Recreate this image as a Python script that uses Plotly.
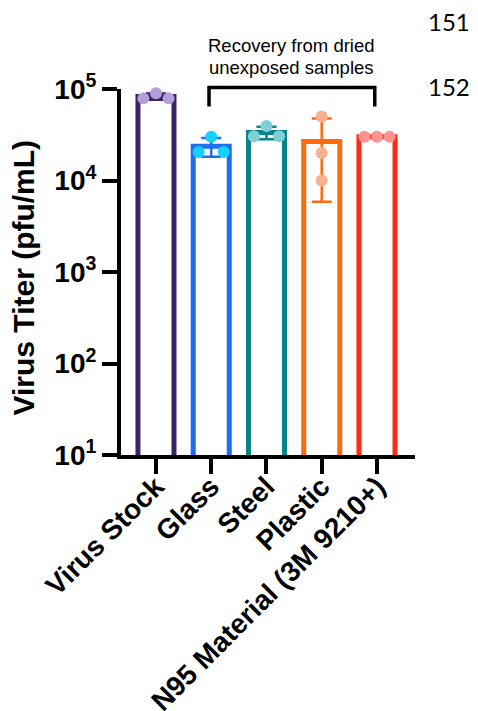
import numpy as np
import plotly.graph_objects as go

# ---- data ----
categories = ["Virus Stock", "Glass", "Steel", "Plastic", "N95 Material (3M 9210+)"]
replicates = [
    [7.9e4, 9.0e4, 7.9e4],
    [2.05e4, 3.0e4, 2.05e4],
    [3.05e4, 3.95e4, 3.05e4],
    [5.0e4, 2.0e4, 1.0e4],
    [3.0e4, 3.0e4, 3.0e4],
]
y_tickvals = [1e1, 1e2, 1e3, 1e4, 1e5]
y_ticktext = ["10<sup>1</sup>", "10<sup>2</sup>", "10<sup>3</sup>", "10<sup>4</sup>", "10<sup>5</sup>"]
bracket_lines = ["Recovery from dried", "unexposed samples"]
page_numbers = ["151", "152"]

# ---- style ----
bar_colors = ["#3B2466", "#1E6EF0", "#07838A", "#FF6A0D", "#FF2A12"]
point_colors = ["#B39DDB", "#17D0FF", "#7FCFD6", "#F9B08F", "#FF9191"]
# horizontal swarm slots for each replicate (display layout)
swarm_slots = [[-1, 0, 1], [-1, 0, 1], [-1, 0, 1], [0, 0, 0], [-1, 0, 1]]
slot_step = 0.228
FONT = "Liberation Sans, Arial, sans-serif"

means = [float(np.mean(r)) for r in replicates]
sds = [float(np.std(r, ddof=1)) for r in replicates]

fig = go.Figure()
for i, cat in enumerate(categories):
    fig.add_trace(go.Bar(
        x=[i], y=[means[i]], width=0.652,
        marker=dict(color="white", line=dict(color=bar_colors[i], width=5)),
        error_y=dict(type="data", array=[sds[i]], visible=True,
                     color=bar_colors[i], thickness=2.5, width=10),
        showlegend=False, hoverinfo="skip",
    ))
for i, cat in enumerate(categories):
    xs = [i + s * slot_step for s in swarm_slots[i]]
    fig.add_trace(go.Scatter(
        x=xs, y=replicates[i], mode="markers",
        marker=dict(color=point_colors[i], size=12, line=dict(width=0)),
        cliponaxis=False, showlegend=False, hoverinfo="skip",
    ))

# bracket over surfaces
fig.add_shape(type="path", xref="x", yref="paper",
              path="M 0.96,0.952 L 0.96,1.004 L 3.96,1.004 L 3.96,0.952",
              line=dict(color="black", width=3.5))

for txt, yp in zip(bracket_lines, [1.1202, 1.0601]):
    fig.add_annotation(x=2.46, xref="x", y=yp, yref="paper", text=txt,
                       showarrow=False, font=dict(family=FONT, size=18.5, color="black"),
                       xanchor="center", yanchor="middle", align="center")

fig.add_annotation(x=-0.33, xref="paper", y=0.485, yref="paper",
                   text="Virus Titer (pfu/mL)", textangle=-90, showarrow=False,
                   font=dict(family=FONT, size=30, color="black", weight="bold"),
                   xanchor="center", yanchor="middle")

for txt, yp in zip(page_numbers, [1.184, 1.006]):
    fig.add_annotation(x=1.1156, xref="paper", y=yp, yref="paper", text=txt,
                       showarrow=False, font=dict(family="Lato, Open Sans, sans-serif", size=24, color="black"),
                       xanchor="center", yanchor="middle")

# page body has an 8px default margin: figure is sized to fit the 478x711 window
fig.update_layout(
    width=470, height=703,
    margin=dict(l=113, r=63, t=81, b=256, autoexpand=False),
    paper_bgcolor="white", plot_bgcolor="white",
    barmode="overlay",
    font=dict(family=FONT, color="black"),
    xaxis=dict(range=[-0.633, 4.688], tickvals=list(range(len(categories))),
               ticktext=categories, tickangle=-45, automargin=False,
               ticklabelstandoff=-15,
               showline=True, linecolor="black", linewidth=4,
               ticks="outside", ticklen=15, tickwidth=4, tickcolor="black",
               showgrid=False, zeroline=False,
               tickfont=dict(family=FONT, size=28, color="black", weight="bold")),
    yaxis=dict(type="log", range=[1, 5], tickvals=y_tickvals, ticktext=y_ticktext,
               automargin=False,
               showline=True, linecolor="black", linewidth=4,
               ticks="outside", ticklen=15, tickwidth=4, tickcolor="black",
               showgrid=False, zeroline=False,
               tickfont=dict(family=FONT, size=28, color="black", weight="bold")),
)

fig.write_html("out.html")
